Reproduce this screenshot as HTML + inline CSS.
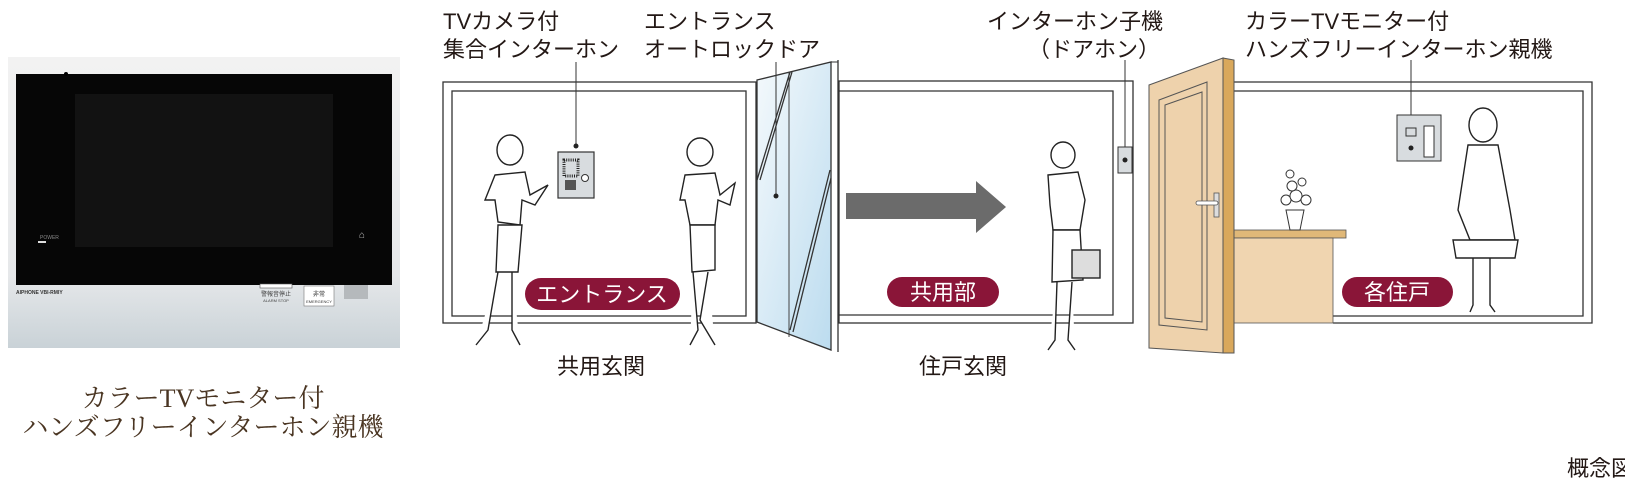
<!DOCTYPE html>
<html><head><meta charset="utf-8"><style>
html,body{margin:0;padding:0;background:#fff;}
svg{display:block;}
.t{font-family:"Liberation Sans","Noto Sans CJK JP",sans-serif;fill:#231815;font-size:22px;}
.s{font-family:"Liberation Serif","Noto Serif CJK SC",serif;fill:#4a3522;font-size:26px;}
.p{font-family:"Liberation Sans","Noto Sans CJK JP",sans-serif;fill:#fff;font-size:22px;}
.ln{fill:none;stroke:#333;stroke-width:1.3;}
.fig{fill:#fff;stroke:#222;stroke-width:1.4;}
</style></head><body>
<svg width="1625" height="485" viewBox="0 0 1625 485" xmlns="http://www.w3.org/2000/svg">
<defs>
<linearGradient id="body" x1="0" y1="0" x2="0" y2="1"><stop offset="0" stop-color="#f2f2f2"/><stop offset="0.75" stop-color="#e6e8ea"/><stop offset="1" stop-color="#c9d2d7"/></linearGradient>
<linearGradient id="glass" x1="0" y1="0" x2="1" y2="1"><stop offset="0" stop-color="#f4f9fc"/><stop offset="1" stop-color="#bcdcef"/></linearGradient>
</defs>
<!-- Monitor -->
<rect x="8" y="57" width="392" height="291" fill="url(#body)"/>
<rect x="16" y="74" width="376" height="211" fill="#060606"/>
<rect x="75" y="94" width="258" height="153" fill="#121212"/>
<circle cx="66" cy="74" r="2" fill="#000"/>
<text x="40" y="239" font-size="5" fill="#888" font-family="Liberation Sans">POWER</text>
<rect x="38" y="241" width="8" height="2" fill="#ddd"/>
<text x="362" y="238" font-size="10" fill="#bbb" text-anchor="middle">⌂</text>
<text x="16" y="294" font-size="5" fill="#333" font-family="Liberation Sans" font-weight="bold">AIPHONE VBI-RMIY</text>
<rect x="260" y="284" width="32" height="4" fill="#fff" stroke="#555" stroke-width="0.6"/>
<text x="276" y="296" font-size="6" fill="#444" text-anchor="middle" font-family="Liberation Sans,Noto Sans CJK JP">警報音停止</text>
<text x="276" y="302" font-size="4" fill="#444" text-anchor="middle" font-family="Liberation Sans">ALARM STOP</text>
<rect x="304" y="286" width="30" height="20" fill="#fff" stroke="#777" stroke-width="0.6"/>
<text x="319" y="296" font-size="6" fill="#333" text-anchor="middle" font-family="Liberation Sans,Noto Sans CJK JP">非常</text>
<text x="319" y="303" font-size="4" fill="#333" text-anchor="middle" font-family="Liberation Sans">EMERGENCY</text>
<rect x="344" y="285" width="24" height="14" fill="#b5b9bc"/>
<text x="203" y="407" class="s" text-anchor="middle">カラーTVモニター付</text>
<text x="203" y="436" class="s" text-anchor="middle">ハンズフリーインターホン親機</text>

<!-- top labels -->
<text x="443" y="29" class="t">TVカメラ付</text>
<text x="443" y="57" class="t">集合インターホン</text>
<text x="644" y="29" class="t">エントランス</text>
<text x="644" y="57" class="t">オートロックドア</text>
<text x="987" y="29" class="t">インターホン子機</text>
<text x="1160" y="57" class="t" text-anchor="end">（ドアホン）</text>
<text x="1245" y="29" class="t">カラーTVモニター付</text>
<text x="1245" y="57" class="t">ハンズフリーインターホン親機</text>

<!-- Room 1 -->
<rect x="443" y="82" width="313" height="241" class="ln"/>
<rect x="452" y="91" width="294" height="225" class="ln"/>
<!-- glass door -->
<polygon points="757,80 831,62 831,350 757,322" fill="url(#glass)" stroke="#333" stroke-width="1.3"/>
<line x1="789" y1="72" x2="789" y2="337" stroke="#444" stroke-width="1"/>
<line x1="831" y1="62" x2="838" y2="62" stroke="#333"/><line x1="838" y1="60" x2="838" y2="352" stroke="#333" stroke-width="1.3"/>
<polyline points="757,180 790,72" class="ln" stroke-width="0.9"/><polyline points="760,180 792,72" class="ln" stroke-width="0.9"/>
<polyline points="790,330 830,170" class="ln" stroke-width="0.9"/><polyline points="793,332 831,178" class="ln" stroke-width="0.9"/>
<line x1="776" y1="62" x2="776" y2="196" stroke="#333" stroke-width="1"/><circle cx="776" cy="196" r="2.5" fill="#222"/>
<!-- panel -->
<line x1="576" y1="62" x2="576" y2="146" stroke="#333" stroke-width="1"/><circle cx="576" cy="146" r="2.5" fill="#222"/>
<rect x="558" y="152" width="36" height="46" fill="#d8dcdf" stroke="#333" stroke-width="1.2"/>
<rect x="564" y="160" width="14" height="16" fill="none" stroke="#222" stroke-dasharray="1 1.2" stroke-width="3"/>
<rect x="565" y="180" width="11" height="10" fill="#555"/>
<circle cx="585" cy="178" r="3.5" fill="#fff" stroke="#333"/>
<!-- figures room1 -->
<g class="fig">
<ellipse cx="510" cy="150" rx="13" ry="15"/>
<path d="M495 175 L525 172 L530 195 L548 185 L535 205 L522 200 L520 225 L498 222 L495 200 L485 200 Z"/>
<path d="M498 225 L522 225 L518 272 L496 272 Z"/>
<path d="M498 272 L488 330 L476 345 M512 272 L512 330 L520 345"/>
<ellipse cx="700" cy="152" rx="13" ry="14"/>
<path d="M685 175 L715 173 L720 195 L735 183 L730 205 L718 200 L715 225 L690 225 L685 200 L680 200 Z"/>
<path d="M690 225 L715 225 L715 270 L692 272 Z"/>
<path d="M693 272 L698 330 L690 345 M708 272 L700 320 L715 345"/>
</g>
<rect x="525" y="278" width="155" height="32" rx="16" fill="#8a1538"/>
<text x="602" y="302" class="p" text-anchor="middle">エントランス</text>
<text x="601" y="374" class="t" font-size="25" text-anchor="middle">共用玄関</text>

<!-- Room 2 -->
<rect x="839" y="81" width="294" height="242" class="ln"/>
<polyline points="839,91 1113,91 1113,315 839,315" class="ln"/>
<polygon points="846,193 976,193 976,181 1006,207 976,233 976,219 846,219" fill="#6b6b6b"/>
<line x1="1125" y1="60" x2="1125" y2="147" stroke="#333" stroke-width="1"/>
<rect x="1118" y="147" width="14" height="26" fill="#d8dcdf" stroke="#333"/><circle cx="1125" cy="160" r="2.5" fill="#222"/>
<g class="fig">
<ellipse cx="1063" cy="155" rx="12" ry="13"/>
<path d="M1048 175 L1078 172 L1085 200 L1080 230 L1053 230 L1050 205 Z"/>
<path d="M1053 230 L1080 230 L1083 280 L1052 282 Z"/>
<path d="M1057 282 L1055 340 L1048 350 M1072 282 L1068 340 L1075 350"/>
<rect x="1072" y="250" width="28" height="28" fill="#ddd"/>
</g>
<rect x="887" y="277" width="112" height="30" rx="15" fill="#8a1538"/>
<text x="943" y="300" class="p" text-anchor="middle">共用部</text>
<text x="963" y="374" class="t" font-size="25" text-anchor="middle">住戸玄関</text>

<!-- Room 3 -->
<polyline points="1233,82 1592,82 1592,323 1333,323" class="ln"/>
<polyline points="1233,91 1583,91 1583,316 1333,316" class="ln"/>
<rect x="1234" y="230" width="112" height="8" fill="#e0b878" stroke="#555" stroke-width="0.8"/>
<rect x="1234" y="238" width="99" height="85" fill="#f0d5b0" stroke="#555" stroke-width="0.8"/>
<!-- door -->
<polygon points="1149,85 1223,58 1223,353 1149,348" fill="#eed2ac" stroke="#555" stroke-width="1"/>
<polygon points="1223,58 1234,60 1234,353 1223,353" fill="#d9a85c" stroke="#555" stroke-width="1"/>
<polygon points="1159,100 1207,82 1207,330 1159,325" fill="none" stroke="#555" stroke-width="1"/>
<polygon points="1165,105 1202,92 1202,322 1165,318" fill="none" stroke="#555" stroke-width="1"/>
<rect x="1214" y="193" width="5" height="24" fill="#ddd" stroke="#555" stroke-width="0.8"/>
<rect x="1196" y="201" width="22" height="4" rx="2" fill="#fff" stroke="#555" stroke-width="0.8"/>
<!-- plant -->
<path d="M1286 210 L1304 210 L1300 230 L1290 230 Z" fill="#fff" stroke="#333"/>
<g fill="#fff" stroke="#333" stroke-width="1"><circle cx="1286" cy="200" r="5"/><circle cx="1296" cy="196" r="6"/><circle cx="1306" cy="200" r="5"/><circle cx="1292" cy="186" r="5"/><circle cx="1302" cy="182" r="4"/><circle cx="1290" cy="174" r="4"/></g>
<!-- monitor on wall -->
<line x1="1411" y1="60" x2="1411" y2="148" stroke="#333" stroke-width="1"/>
<rect x="1397" y="115" width="44" height="46" fill="#d8dcdf" stroke="#333"/>
<rect x="1406" y="128" width="10" height="8" fill="none" stroke="#333"/>
<rect x="1424" y="126" width="10" height="31" fill="#fff" stroke="#333"/>
<circle cx="1411" cy="148" r="2.5" fill="#222"/>
<g class="fig">
<ellipse cx="1483" cy="125" rx="14" ry="17"/>
<path d="M1468 145 L1498 145 L1510 210 L1515 240 L1470 240 L1458 210 Z"/>
<path d="M1453 240 L1518 240 L1515 258 L1456 258 Z"/>
<path d="M1473 258 L1473 305 L1470 312 M1490 258 L1490 305 L1495 312"/>
</g>
<rect x="1342" y="277" width="111" height="30" rx="15" fill="#8a1538"/>
<text x="1397" y="300" class="p" text-anchor="middle">各住戸</text>

<text x="1600" y="476" class="t" font-size="12" fill="#555" text-anchor="middle">概念図</text>
</svg>
</body></html>
